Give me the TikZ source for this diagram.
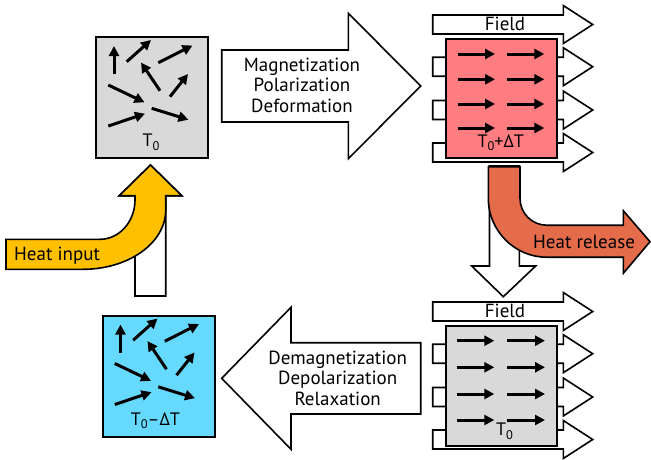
\documentclass[tikz,border=0pt]{standalone}
\usepackage{fontspec}
\setmainfont{PT Sans}
\usetikzlibrary{arrows.meta}
\definecolor{boxgrey}{HTML}{D9D9D9}
\definecolor{boxred}{HTML}{FF7C80}
\definecolor{boxblue}{HTML}{66D9FF}
\definecolor{heatin}{HTML}{FFC000}
\definecolor{heatout}{HTML}{E46C4A}
\newcommand\subzero{\raisebox{-3.5pt}{\fontsize{12.5}{12.5}\selectfont 0}}
\begin{document}
\begin{tikzpicture}[x=1pt,y=-1pt,
  font=\fontsize{19}{20.5}\selectfont,
  blockarrow/.style={draw=black, line width=1.6pt, fill=white, line join=miter},
  statebox/.style={draw=black, line width=2pt, minimum width=112pt, minimum height=121pt, anchor=north west, inner sep=0pt},
  dipole/.style={line width=3pt, -{Triangle[length=10pt,width=10pt]}},
  lbl/.style={inner sep=0pt, align=center},
  tlbl/.style={inner sep=0pt, anchor=base, font=\fontsize{18}{20}\selectfont}]
\useasboundingbox (0,0) rectangle (651,459);

% ---------- field arrows (top and bottom) ----------
\foreach \sy in {0,287}{
  \foreach \c in {24.5,66.7,110,152.5}{
    \begin{scope}[shift={(0,\sy+\c)}]
      \draw[blockarrow] (432.7,-9.5) -- (563.3,-9.5) -- (563.3,-19) -- (592.7,0) -- (563.3,19) -- (563.3,9.5) -- (432.7,9.5) -- cycle;
    \end{scope}
  }
}
\node[lbl] (f1) at (505,24) {Field};
\node[lbl] (f2) at (505,311) {Field};

% ---------- big process arrows ----------
\draw[blockarrow] (221.7,50) -- (348.3,50) -- (348.3,13.3) -- (420.7,86) -- (348.3,158.7) -- (348.3,122) -- (221.7,122) -- cycle;
\node[lbl] (mag) at (302,85) {Magnetization\\Polarization\\Deformation};
\draw[blockarrow] (420.7,342.7) -- (291,342.7) -- (291,307.3) -- (221.7,378.3) -- (291,449.3) -- (291,414) -- (420.7,414) -- cycle;
\node[lbl] (demag) at (337.7,378) {Demagnetization\\Depolarization\\Relaxation};

% ---------- white vertical arrows ----------
\draw[blockarrow] (489.5,166) -- (519.3,166) -- (519.3,266) -- (535.7,266) -- (503.3,296.7) -- (471.7,266) -- (489.5,266) -- cycle;
\draw[blockarrow] (135,296) -- (165.7,296) -- (165.7,195.7) -- (181.7,195.7) -- (150.5,165) -- (119.3,195.7) -- (135,195.7) -- cycle;

% ---------- heat arrows ----------
\draw[blockarrow, fill=heatin] (6,239.3) -- (100,239.3) .. controls (119.3,239.3) and (135,221.6) .. (135,200) -- (135,195.7) -- (119.3,195.7) -- (150.5,165) -- (181.7,195.7) -- (165.7,195.7) -- (165.7,210) .. controls (165.7,243) and (128.5,269.3) .. (83,269.3) -- (6,269.3) -- cycle;
\node[lbl, anchor=west] (hin) at (14,256) {Heat input};
\draw[blockarrow, fill=heatout] (488.3,166.7) -- (520,166.7) -- (520,198.5) .. controls (520,213.2) and (532,225.2) .. (546.7,225.2) -- (623.3,225.2) -- (623.3,210.7) -- (650,241.7) -- (623.3,273.3) -- (623.3,257.2) -- (546.7,257.2) .. controls (514.6,257.2) and (488.3,230.6) .. (488.3,198.5) -- cycle;
\node[lbl, anchor=west] (hout) at (533,242) {Heat release};

% ---------- state boxes ----------
\node[statebox, fill=boxgrey] (tl) at (95,36) {};
\node[statebox, fill=boxblue] (bl) at (101.5,314.5) {};
\node[statebox, fill=boxred, minimum width=111pt, minimum height=119.6pt] (tr) at (445,37.7) {};
\node[statebox, fill=boxgrey, minimum width=111pt, minimum height=120pt] (br) at (445,325) {};

% random dipoles
\foreach \dx/\dy/\bx in {0/0/tl, 6.5/278.5/bl}{
  \begin{scope}[shift={(\dx,\dy)}]
    \draw[dipole] (114,74) -- (114,46);
    \draw[dipole] (126.7,61.7) -- (151,40);
    \draw[dipole] (158.3,62.7) -- (192.5,45.5);
    \draw[dipole] (160,90.7) -- (141,62.5);
    \draw[dipole] (170,96.7) -- (188,74);
    \draw[dipole] (108.3,85) -- (144.5,102.3);
    \draw[dipole] (108.3,126) -- (145,113.7);
    \draw[dipole] (151.7,108.3) -- (188.5,119.7);
  \end{scope}
}
% aligned dipoles
\foreach \r in {54,79.3,104,128}{
  \draw[dipole] (457.7,\r) -- (495,\r);
  \draw[dipole] (506.7,\r) -- (544.3,\r);
}
\foreach \r in {340.7,367.3,394,420}{
  \draw[dipole] (456.7,\r) -- (494.3,\r);
  \draw[dipole] (507.3,\r) -- (545,\r);
}

% temperature labels
\node[tlbl] (t1) at (151,146.7) {T\subzero};
\node[tlbl] (t2) at (155.3,425) {T\subzero–ΔT};
\node[tlbl] (t3) at (500.7,147.3) {T\subzero+ΔT};
\node[tlbl] (t4) at (504.5,435.7) {T\subzero};
\end{tikzpicture}
\end{document}
